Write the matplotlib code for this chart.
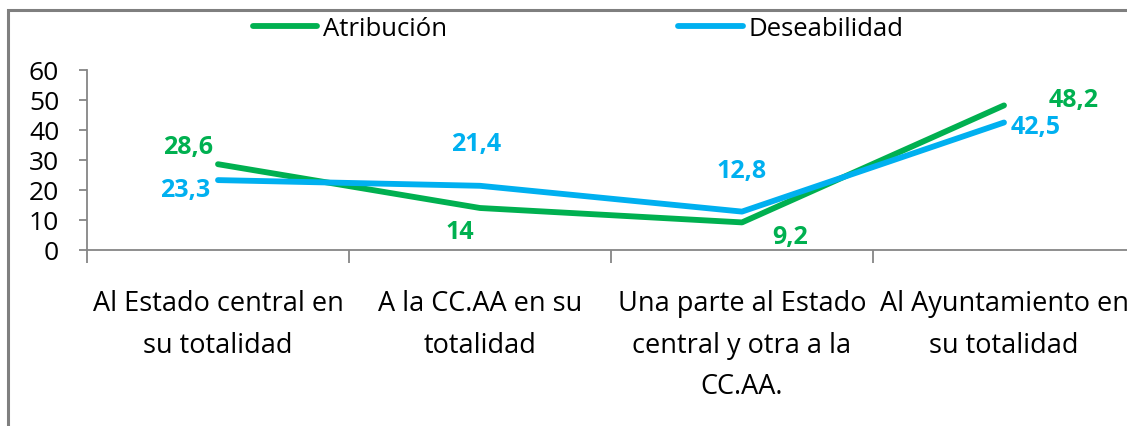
import matplotlib.pyplot as plt
from matplotlib.patches import Rectangle

categorias = ['Al Estado central en\nsu totalidad',
              'A la CC.AA en su\ntotalidad',
              'Una parte al Estado\ncentral y otra a la\nCC.AA.',
              'Al Ayuntamiento en\nsu totalidad']
atribucion = [28.6, 14, 9.2, 48.2]
deseabilidad = [23.3, 21.4, 12.8, 42.5]

verde = '#00B050'
azul = '#00B0F0'
gris = '#868686'

plt.rcParams['font.family'] = ['Open Sans', 'DejaVu Sans']

fig = plt.figure(figsize=(11.27, 4.27), dpi=100)
# el eje se sale un poco por la derecha, como el grafico recortado
ax = fig.add_axes([87/1127, 176/427, 1048/1127, 180/427])

x = list(range(len(categorias)))
ax.plot(x, atribucion, color=verde, lw=4.2, label='Atribución', solid_capstyle='round')
ax.plot(x, deseabilidad, color=azul, lw=4.2, label='Deseabilidad', solid_capstyle='round')

# etiquetas de datos (desplazamiento en pixeles)
desp_atr = [(-30, 18), (-20, -24), (48, -14), (70, 6)]
desp_des = [(-33, -9), (-4, 42), (0, 41), (32, -4)]
for i in x:
    ax.annotate(str(atribucion[i]).replace('.', ','), (i, atribucion[i]),
                xytext=desp_atr[i], textcoords='offset pixels',
                ha='center', va='center', color=verde, fontsize=18, fontweight='bold')
    ax.annotate(str(deseabilidad[i]).replace('.', ','), (i, deseabilidad[i]),
                xytext=desp_des[i], textcoords='offset pixels',
                ha='center', va='center', color=azul, fontsize=18, fontweight='bold')

ax.set_ylim(0, 60)
ax.set_yticks(range(0, 61, 10))
ax.set_xlim(-0.5, 3.5)
ax.set_xticks(x)
ax.set_xticklabels(categorias, fontsize=19.5, linespacing=1.65)
ax.set_xticks([-0.5, 0.5, 1.5, 2.5, 3.5], minor=True)
ax.tick_params(axis='x', which='major', length=0, pad=28)
ax.tick_params(axis='x', which='minor', length=9, color=gris, width=1.3)
ax.tick_params(axis='y', length=6, color=gris, width=1.3, labelsize=19, pad=14)

for lado in ['top', 'right']:
    ax.spines[lado].set_visible(False)
for lado in ['left', 'bottom']:
    ax.spines[lado].set_color(gris)
    ax.spines[lado].set_linewidth(1.3)

fig.legend(loc='center', bbox_to_anchor=(0.513, 0.93), ncol=2, frameon=False,
           fontsize=18.5, handlelength=2.5, handletextpad=0.24, columnspacing=9.0)

# marco exterior
fig.patches.append(Rectangle((8/1127, -0.1), 1.1, 1.1 - 11/427, transform=fig.transFigure,
                             fill=False, edgecolor='#7f7f7f', lw=2.2))

fig.savefig('out.png', dpi=100)
